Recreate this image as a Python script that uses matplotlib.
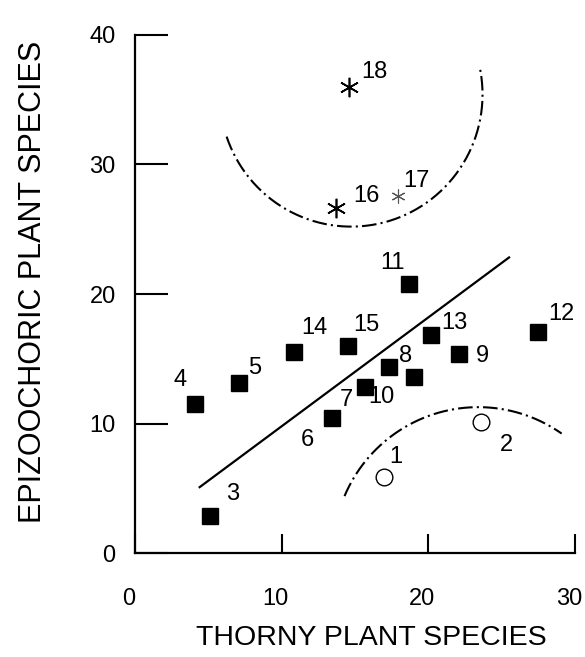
import numpy as np
import matplotlib
matplotlib.use("Agg")
import matplotlib.pyplot as plt
from matplotlib.transforms import ScaledTranslation

plt.rcParams['font.family'] = ['Liberation Sans', 'DejaVu Sans']

# ---- data ----
sq_ids = ["3", "4", "5", "6", "7", "8", "9", "10", "11", "12", "13", "14", "15"]
sq_x = [5.1, 4.1, 7.1, 13.4, 15.7, 17.3, 22.1, 19.0, 18.7, 27.5, 20.2, 10.8, 14.5]
sq_y = [2.9, 11.5, 13.1, 10.4, 12.8, 14.4, 15.4, 13.6, 20.8, 17.1, 16.8, 15.5, 16.0]

star_ids = ["16", "17", "18"]
star_x = [13.7, 17.9, 14.6]
star_y = [26.6, 27.6, 36.0]

circ_ids = ["1", "2"]
circ_x = [17.0, 23.6]
circ_y = [5.9, 10.1]

reg_x = [4.4, 25.5]
reg_intercept = 1.4
reg_slope = 0.84

x_ticks = [0, 10, 20, 30]
y_ticks = [0, 10, 20, 30, 40]

# label offsets (pixels)
offsets = {"3": (23, 22), "4": (-15, 24), "5": (15, 15), "6": (-24, -22),
           "7": (-19, -13), "8": (17, 11), "9": (23, -2), "10": (-32, -20),
           "11": (-17, 21), "12": (23, 18), "13": (23, 12), "14": (21, 24),
           "15": (19, 21), "16": (30, 12), "17": (19, 15), "18": (25, 15),
           "1": (11, 20), "2": (25, -23)}

fig = plt.figure(figsize=(5.85, 6.57), dpi=100)
ax = fig.add_axes([0.231, 0.158, 0.752, 0.789])
ax.set_xlim(0, 30)
ax.set_ylim(0, 40)

for s in ["top", "right"]:
    ax.spines[s].set_visible(False)
for s in ["left", "bottom"]:
    ax.spines[s].set_linewidth(1.6)

ax.set_xticks(x_ticks)
ax.set_yticks(y_ticks)
ax.tick_params(axis='y', direction='in', length=24, width=1.5, pad=14, labelsize=17)
ax.tick_params(axis='x', direction='in', length=14, width=1.5, pad=25, labelsize=17)
shift = ScaledTranslation(-6 / 100, 0, fig.dpi_scale_trans)
for lab in ax.get_xticklabels():
    lab.set_transform(lab.get_transform() + shift)

# regression line
rx = np.array(reg_x)
ax.plot(rx, reg_intercept + reg_slope * rx, color='black', lw=1.6)

# dash-dot arcs
dd = (0, (7, 2, 1, 2))
t = np.radians(np.linspace(198.6, 371, 200))
ax.plot(14.73 + 8.96 * np.cos(t), 35.4 + 10.2 * np.sin(t), color='black', lw=1.5, linestyle=dd)
t2 = np.radians(np.linspace(157, 55, 200))
ax.plot(23.4 + 9.91 * np.cos(t2), 0 + 11.27 * np.sin(t2), color='black', lw=1.5, linestyle=dd)

# markers
ax.plot(sq_x, sq_y, linestyle='none', marker='s', markersize=11, color='black')
ax.plot(star_x[:1] + star_x[2:], star_y[:1] + star_y[2:], linestyle='none',
        marker=(6, 2, 0), markersize=14, color='black', markeredgewidth=1.2)
ax.plot(star_x[1:2], star_y[1:2], linestyle='none', marker=(6, 2, 0), markersize=10,
        color='#555555', markeredgewidth=0.8)
ax.plot(circ_x, circ_y, linestyle='none', marker='o', markersize=12,
        markerfacecolor='none', markeredgecolor='black', markeredgewidth=1.0)

for ids, xs, ys in [(sq_ids, sq_x, sq_y), (star_ids, star_x, star_y), (circ_ids, circ_x, circ_y)]:
    for i, x, y in zip(ids, xs, ys):
        ax.annotate(i, (x, y), xytext=offsets[i], textcoords='offset pixels',
                    ha='center', va='center', fontsize=17)

ax.set_ylabel("EPIZOOCHORIC PLANT SPECIES", fontsize=22)
ax.set_xlabel("THORNY PLANT SPECIES", fontsize=20.5)
ax.yaxis.set_label_coords(-0.197, 0.523)
ax.xaxis.set_label_coords(0.536, -0.139)

fig.savefig("out.png", dpi=100)
